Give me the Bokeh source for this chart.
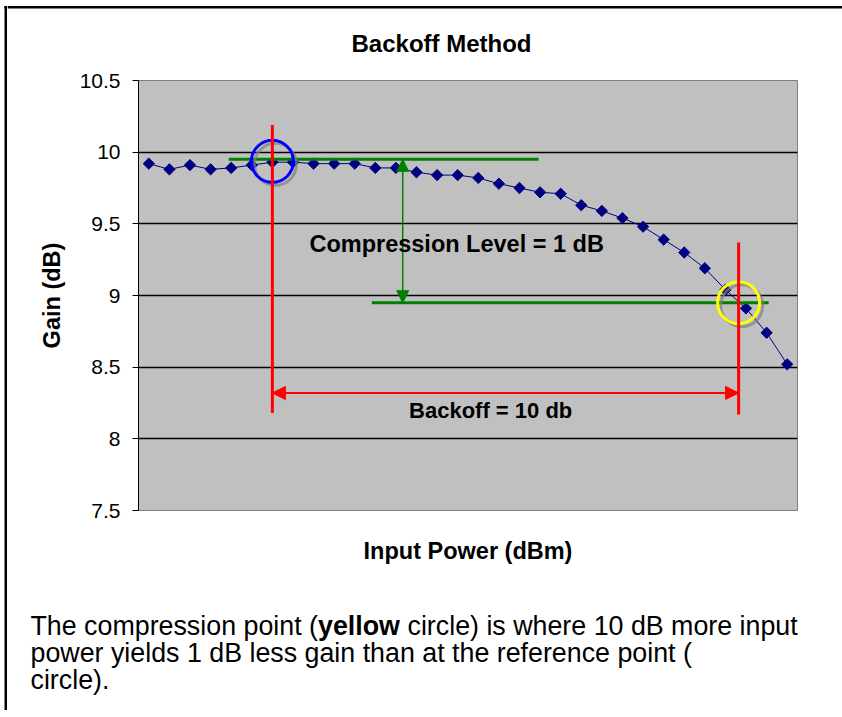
from bokeh.plotting import figure
from bokeh.models import (Arrow, NormalHead, FixedTicker, ColumnDataSource, Range1d, Label)
from bokeh.layouts import row, column
from bokeh.core.properties import value
from bokeh.embed import file_html
from bokeh.resources import INLINE

# ---------------- data ----------------
points = list(range(1, 33))  # measurement index (input power steps)
gain_db = [9.92, 9.88, 9.91, 9.88, 9.89, 9.91, 9.93, 9.93, 9.92, 9.92, 9.92,
           9.89, 9.89, 9.86, 9.84, 9.84, 9.82, 9.78, 9.75, 9.72, 9.71, 9.63,
           9.59, 9.54, 9.48, 9.39, 9.30, 9.19, 9.04, 8.91, 8.74, 8.52]
y_ticks = [7.5, 8, 8.5, 9, 9.5, 10, 10.5]
y_tick_labels = ["7.5", "8", "8.5", "9", "9.5", "10", "10.5"]
grid_levels = [8, 8.5, 9, 9.5, 10]

# annotation anchors (data units)
ref_x = 7            # reference point index
comp_x = 29.64       # compression point position
ref_level = 9.95     # reference gain level
comp_level = 8.95    # 1 dB below reference
ref_circle_y = 9.936

chart_title = "Backoff Method"
caption_lines = [
    ["The compression point (", "yellow", "circle) is where 10 dB more input"],
    ["power yields 1 dB less gain than at the reference point ("],
    ["circle)."],
]

FONT = "Liberation Sans"
PAGE_W = 842
LEFT_W = 7
MAIN_W = PAGE_W - LEFT_W
HEAD_H = 70
CHART_H = 528
CAP_H = 112
TOTAL_H = HEAD_H + CHART_H + CAP_H


def blank(width, height, xr, yr):
    f = figure(width=width, height=height, x_range=xr, y_range=yr,
               output_backend="svg", toolbar_location=None,
               x_axis_type=None, y_axis_type=None, min_border=0,
               background_fill_color="white", border_fill_color="white",
               outline_line_color=None, frame_align=False)
    f.grid.visible = False
    return f


# ---- left frame edge (full height) ----
left = blank(LEFT_W, TOTAL_H, Range1d(0, LEFT_W), Range1d(TOTAL_H, 0))
left.quad(left=[4, 4], right=[7, 7], top=[5.5, 5.5], bottom=[TOTAL_H, 8],
          fill_color="black", line_color=None)

# ---- header: top frame edge + chart title ----
head = blank(MAIN_W, HEAD_H, Range1d(0, MAIN_W), Range1d(HEAD_H, 0))
head.quad(left=[0], right=[MAIN_W], top=[5.5], bottom=[8],
          fill_color="black", line_color=None)
head.text(x=[434], y=[43], text=[chart_title], text_font=value(FONT),
          text_font_size="24px", text_font_style="bold", text_align="center",
          text_baseline="middle", text_color="black")

# ---- chart ----
p = figure(width=MAIN_W, height=CHART_H,
           x_range=Range1d(0.5, 32.5), y_range=Range1d(7.5, 10.5),
           output_backend="svg", toolbar_location=None, frame_align=False,
           min_border_left=131, min_border_right=MAIN_W - 131 - 659,
           min_border_top=10, min_border_bottom=CHART_H - 10 - 430,
           background_fill_color="#c0c0c0", border_fill_color="white",
           outline_line_color="#808080", outline_line_width=1)

p.xaxis.axis_label = "Input Power (dBm)"
p.xaxis.axis_label_text_font = FONT
p.xaxis.axis_label_text_font_style = "bold"
p.xaxis.axis_label_text_font_size = "23.5px"
p.xaxis.axis_label_text_color = "black"
p.xaxis.axis_label_standoff = 27
p.xaxis.major_label_text_font_size = "0px"
p.xaxis.major_tick_line_color = None
p.xaxis.minor_tick_line_color = None
p.xaxis.axis_line_color = None
p.xaxis.ticker = FixedTicker(ticks=[])

p.yaxis.ticker = FixedTicker(ticks=y_ticks)
p.yaxis.major_label_overrides = {t: l for t, l in zip(y_ticks, y_tick_labels)}
p.yaxis.axis_label = "Gain (dB)"
p.yaxis.axis_label_text_font = FONT
p.yaxis.axis_label_text_font_style = "bold"
p.yaxis.axis_label_text_font_size = "23.5px"
p.yaxis.axis_label_text_color = "black"
p.yaxis.axis_label_standoff = 12
p.yaxis.major_label_text_font = FONT
p.yaxis.major_label_text_font_size = "21px"
p.yaxis.major_label_text_color = "black"
p.yaxis.major_label_standoff = 12
p.yaxis.major_tick_in = 0
p.yaxis.major_tick_out = 6
p.yaxis.major_tick_line_color = "black"
p.yaxis.minor_tick_line_color = None
p.yaxis.axis_line_color = "black"

p.xgrid.grid_line_color = None
p.ygrid.ticker = FixedTicker(ticks=grid_levels)
p.ygrid.grid_line_color = "black"
p.ygrid.grid_line_width = 1.5

# data
src = ColumnDataSource(dict(x=points, y=gain_db))
p.line("x", "y", source=src, line_color="#000080", line_width=1)
p.scatter("x", "y", source=src, marker="square", angle=0.785398, size=8,
          fill_color="#000080", line_color="#000080")

# green reference lines
p.segment(x0=[4.88, 11.83], y0=[ref_level, comp_level],
          x1=[19.93, 31.1], y1=[ref_level, comp_level],
          line_color="#008000", line_width=3)

# circle shadows and circles
p.scatter(x=[ref_x + 0.15, comp_x + 0.15], y=[ref_circle_y - 0.021, comp_level - 0.021],
          marker="circle", size=42, fill_alpha=0, line_color="#808080",
          line_alpha=0.7, line_width=3)
p.scatter(x=[ref_x], y=[ref_circle_y], marker="circle", size=42, fill_alpha=0,
          line_color="#0000ff", line_width=3)
p.scatter(x=[comp_x], y=[comp_level], marker="circle", size=42, fill_alpha=0,
          line_color="#ffff00", line_width=3)

# red vertical markers
p.segment(x0=[ref_x, comp_x], y0=[10.19, 9.37], x1=[ref_x, comp_x], y1=[8.18, 8.17],
          line_color="#ff0000", line_width=3)

# arrows
p.add_layout(Arrow(start=NormalHead(size=13, fill_color="#ff0000", line_color="#ff0000"),
                   end=NormalHead(size=13, fill_color="#ff0000", line_color="#ff0000"),
                   x_start=ref_x, y_start=8.32, x_end=comp_x, y_end=8.32,
                   line_color="#ff0000", line_width=2))
p.add_layout(Arrow(start=NormalHead(size=12, fill_color="#008000", line_color="#008000"),
                   end=NormalHead(size=12, fill_color="#008000", line_color="#008000"),
                   x_start=13.33, y_start=ref_level, x_end=13.33, y_end=comp_level,
                   line_color="#008000", line_width=1.5))

p.add_layout(Label(x=15.95, y=9.36, text="Compression Level = 1 dB", text_font=FONT,
                   text_font_size="23.5px", text_font_style="bold", text_align="center",
                   text_baseline="middle", text_color="black"))
p.add_layout(Label(x=17.6, y=8.20, text="Backoff = 10 db", text_font=FONT,
                   text_font_size="22px", text_font_style="bold", text_align="center",
                   text_baseline="middle", text_color="black"))

# ---- caption ----
cap = blank(MAIN_W, CAP_H, Range1d(0, MAIN_W), Range1d(CAP_H, 0))
cap_x = [23, 310.5, 400, 23, 23]
cap_y = [27, 27, 27, 54, 81]
cap_text = [caption_lines[0][0], caption_lines[0][1], caption_lines[0][2],
            caption_lines[1][0], caption_lines[2][0]]
cap_style = ["normal", "bold", "normal", "normal", "normal"]
cap.text(x=cap_x, y=cap_y, text=cap_text, text_font=value(FONT),
         text_font_size="26.8px", text_font_style=cap_style,
         text_baseline="alphabetic", text_align="left", text_color="black")

layout = row(left, column(head, p, cap))
open("out.html", "w").write(file_html(layout, INLINE))
